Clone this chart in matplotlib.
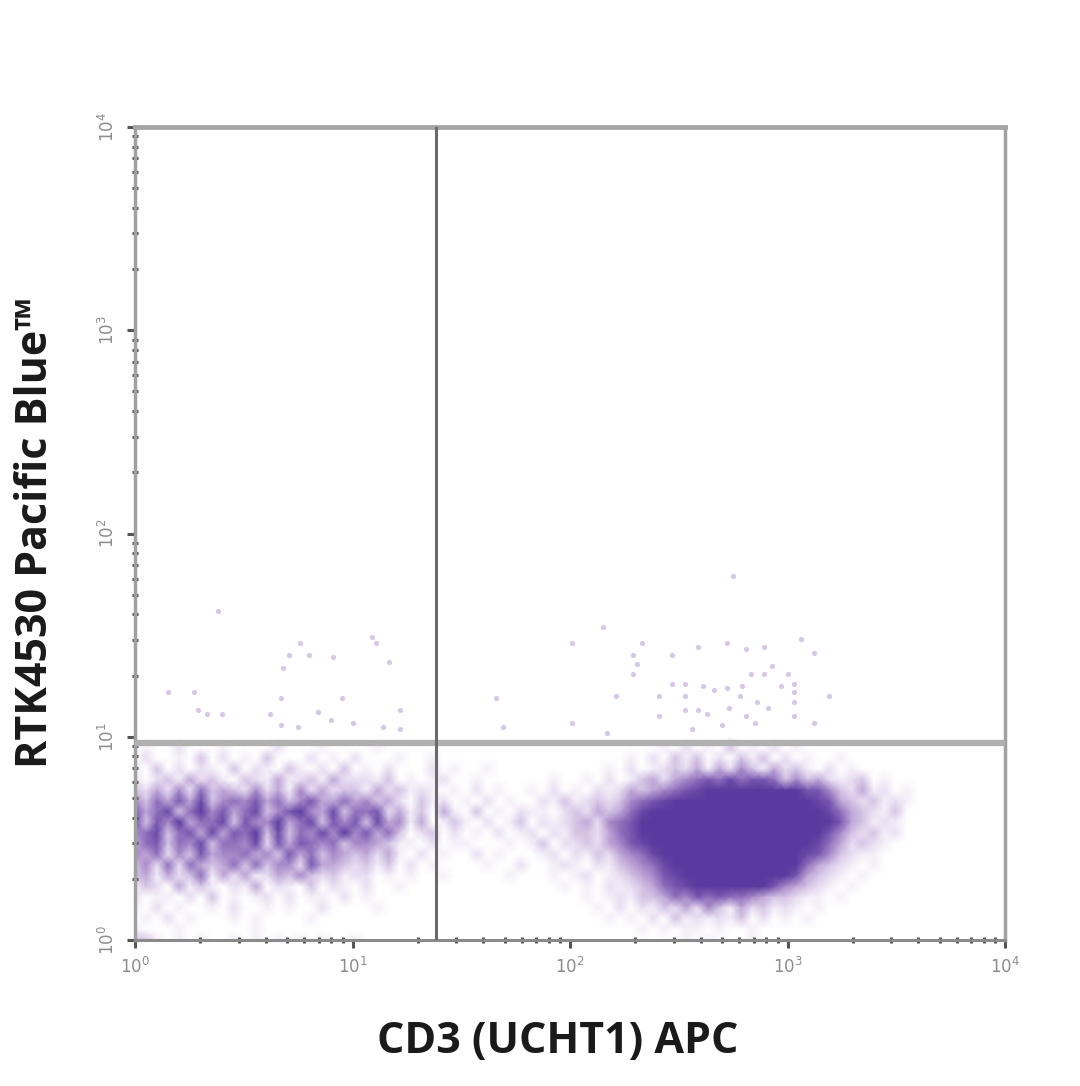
import numpy as np
import matplotlib
matplotlib.use("Agg")
import matplotlib.pyplot as plt
from matplotlib.colors import LinearSegmentedColormap

# event density, 0-9, rows top to bottom, 0.05 decade columns
density_rows = [
    "0000000000 0000000000 0000000000 0000000000 0000000000 0000000000 0000000000 0000",
    "0100200010 0002000100 0010000000 0000000000 0000000010 2010301020 1000000000 0000",
    "0200103020 1030002010 2000100100 0000000000 0000010203 1302031302 0100100000 0000",
    "1030202103 0210310203 0102000201 0010000000 0001020123 2414253142 3102010000 0000",
    "2023142310 3214123142 2213010120 0100000010 0102013424 5676867763 5342123010 0000",
    "3242526343 2524152423 3142312101 0201001020 1021243456 7899999999 9775324120 1000",
    "5364748356 5746357446 4534203120 1020100213 1232356789 9999999999 9987432312 1000",
    "7468369574 6835795483 6672413041 0301021102 3243468999 9999999999 9998643213 0000",
    "8375946683 7559468375 7384514013 1020130212 3425679999 9999999999 9999743121 0000",
    "5683674847 6938365859 5746302302 0102012021 3324679999 9999999999 9997532312 0000",
    "4673658366 5827476563 5543110201 1000101302 2324578999 9999999999 9986423210 0000",
    "5462537455 6453746354 3424102010 0201000120 2132456899 9999999999 9875321100 0000",
    "3526264346 3635527443 2313020100 0010020012 1021345689 9999999999 9643210100 0000",
    "3414236142 4124353231 2201010010 0000100010 1201234578 9999999999 7432101000 0000",
    "1320413102 1402103021 0200100000 0000000001 0102123467 8999999975 4321010000 0000",
    "2011020301 0120201102 0100000000 0000000000 0101213346 5767665433 2110100000 0000",
    "1020100102 0010100200 0010000000 0000000000 0010202132 4253142312 1010000000 0000",
    "0102010001 0100001000 0000000000 0000000000 0001010203 1212130201 0100000000 0000",
    "1000100000 0100000000 0000000000 0000000000 0000001010 1101001000 0000000000 0000",
    "3310101001 0101010100 1000000000 0000000000 0000000000 1010001000 0000000000 0000",
]

# single events above the gate, log10 of each channel
sparse_logx = [.38, .76, .71, .80, .91, .68, 1.09, 1.11, 1.17, .15, .27, .67, .95, .29, .33, .40,
               .62, .84, 1.22, .67, .75, .90, 1.00, 1.14, 1.22, 1.66, 1.69, 2.75, 2.15, 2.01, 2.33,
               2.59, 2.72, 2.81, 2.89, 3.06, 3.12, 2.47, 2.29, 2.31, 2.29, 2.93, 2.83, 2.89, 3.00,
               2.47, 2.53, 2.61, 2.66, 2.72, 2.79, 2.97, 3.03, 2.21, 2.41, 2.53, 2.78, 3.19, 3.03,
               2.86, 3.03, 2.53, 2.59, 2.63, 2.73, 2.91, 2.81, 2.41, 3.03, 2.01, 2.70, 2.85, 3.12,
               2.17, 2.56]
sparse_logy = [1.62, 1.46, 1.40, 1.40, 1.39, 1.34, 1.49, 1.46, 1.37, 1.22, 1.22, 1.19, 1.19, 1.13, 1.11, 1.11,
               1.11, 1.12, 1.13, 1.06, 1.05, 1.08, 1.07, 1.05, 1.04, 1.19, 1.05, 1.79, 1.54, 1.46, 1.46,
               1.44, 1.46, 1.43, 1.44, 1.48, 1.41, 1.40, 1.40, 1.36, 1.31, 1.35, 1.31, 1.31, 1.31,
               1.26, 1.26, 1.25, 1.23, 1.24, 1.25, 1.25, 1.26, 1.20, 1.20, 1.20, 1.20, 1.20, 1.22,
               1.17, 1.17, 1.13, 1.13, 1.11, 1.14, 1.14, 1.10, 1.10, 1.10, 1.07, 1.06, 1.07, 1.07,
               1.02, 1.04]

x_gate = 24.2
y_gate = 9.3
x_label = "CD3 (UCHT1) APC"
y_label = "RTK4530 Pacific Blue™"

density = np.array([[int(c) for c in row.replace(" ", "")] for row in density_rows], dtype=float)
cell_x = 10 ** np.linspace(0, 3.7, density.shape[1])
cell_y = 10 ** np.linspace(1, 0, density.shape[0])

purple = LinearSegmentedColormap.from_list("purple", ["#ffffff", "#e6daf0", "#b498d0", "#7c5cb2", "#5a3a9e"])

fig = plt.figure(figsize=(10.8, 10.86), dpi=100)
ax = fig.add_axes([135 / 1080, 146 / 1086, 870 / 1080, 813 / 1086])
ax.set_xscale("log")
ax.set_yscale("log")

ax.pcolormesh(cell_x, cell_y, density, shading="gouraud", cmap=purple, vmin=0, vmax=9, zorder=1)
ax.scatter(10 ** np.array(sparse_logx), 10 ** np.array(sparse_logy), s=14, color="#b9a2d4",
           linewidths=0, alpha=0.6, zorder=2)

ax.axhline(y_gate, color="#b0b0b0", lw=4.5, zorder=3)
ax.axvline(x_gate, color="#6a6a6a", lw=2.2, zorder=4)

ax.set_xlim(1, 1e4)
ax.set_ylim(1, 1e4)

for side, width, color in [("left", 2.5, "#a0a0a0"), ("bottom", 2.2, "#8a8a8a"),
                           ("top", 3.5, "#a5a5a5"), ("right", 2.5, "#a0a0a0")]:
    ax.spines[side].set_linewidth(width)
    ax.spines[side].set_color(color)

ax.tick_params(which="major", length=6, width=2.2, color="#555555", labelsize=12,
               labelcolor="#8c8c8c", pad=6)
ax.tick_params(which="minor", length=4, width=2.2, color="#555555", direction="inout")
ax.tick_params(axis="y", labelrotation=90)
for label in ax.get_yticklabels():
    label.set_va("center")

fig.text(558 / 1080, 1 - 1041 / 1086, x_label, ha="center", va="center", fontsize=31,
         family="Open Sans", weight="bold", color="#1a1a1a")
fig.text(36 / 1080, 1 - 533 / 1086, y_label, ha="center", va="center", rotation=90, fontsize=31,
         family="Open Sans", weight="bold", color="#1a1a1a")

fig.savefig("out.png", dpi=100)
